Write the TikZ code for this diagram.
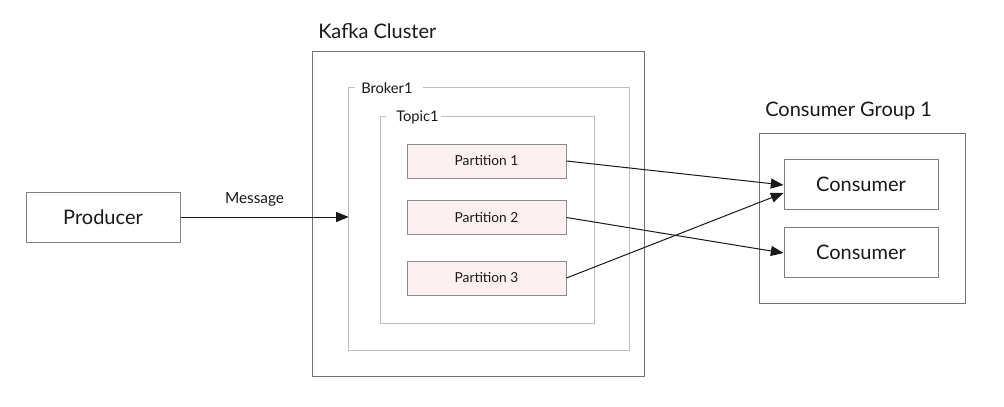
\documentclass[tikz,border=0pt]{standalone}
\usepackage{fontspec}
\setmainfont{Lato}
\usetikzlibrary{arrows.meta,calc}
\definecolor{pfill}{HTML}{FDF0F0}
\definecolor{boxline}{HTML}{808080}
\definecolor{lightline}{HTML}{BDBDBD}
\tikzset{
  every node/.style={text=black!90},
  plain/.style={draw=boxline, line width=0.75pt, rectangle, inner sep=0pt},
  pbox/.style={plain, draw=black!45, fill=pfill, minimum width={159*0.75pt}, minimum height={34*0.75pt}, font=\fontsize{10.3}{12}\selectfont},
  cbox/.style={plain, minimum width={154*0.75pt}, minimum height={50*0.75pt}, font=\fontsize{15}{18}\selectfont},
  frame/.style={draw=lightline, line width=1pt},
  lbl/.style={anchor=west, inner sep=0pt, font=\fontsize{11}{13}\selectfont},
  title/.style={anchor=west, inner sep=0pt, font=\fontsize{15}{18}\selectfont},
  arr/.style={-{Triangle[length=9.5pt,width=7.5pt]}, line width=0.75pt, black!90},
}
\begin{document}
\begin{tikzpicture}[x=0.75pt,y=-0.75pt]
\path[use as bounding box, fill=white] (0,0) rectangle (1004,407);
% Kafka cluster
\node[plain, draw=black!55, minimum width={332*0.75pt}, minimum height={325*0.75pt}] (kafka) at (478,213.5) {};
\node[title] (kafkalbl) at (318,31) {Kafka Cluster};
% Broker
\node[minimum width={280*0.75pt}, minimum height={262*0.75pt}, inner sep=0pt] (broker) at (489,219) {};
\draw[frame] ($(broker.north west)+(6,0)$) -- (broker.north west) -- (broker.south west) -- (broker.south east) -- (broker.north east) -- ($(broker.north west)+(74,0)$);
\node[lbl] (brokerlbl) at (361,88) {Broker1};
% Topic
\node[minimum width={213*0.75pt}, minimum height={206*0.75pt}, inner sep=0pt] (topic) at (487.5,220) {};
\draw[frame] ($(topic.north west)+(5,0)$) -- (topic.north west) -- (topic.south west) -- (topic.south east) -- (topic.north east) -- ($(topic.north west)+(60,0)$);
\node[lbl] (topiclbl) at (396,117) {Topic1};
% Partitions
\node[pbox] (p1) at (486.5,161) {Partition 1};
\node[pbox] (p2) at (486.5,217.5) {Partition 2};
\node[pbox] (p3) at (486.5,278) {Partition 3};
% Producer
\node[cbox] (prod) at (103,217) {Producer};
% Consumer group
\node[plain, draw=black!55, minimum width={206*0.75pt}, minimum height={170*0.75pt}] (cg) at (862,218) {};
\node[title] (cglbl) at (765,111) {Consumer Group 1};
\node[cbox] (c1) at (861,184) {Consumer};
\node[cbox] (c2) at (861,252) {Consumer};
% Arrows
\draw[arr] (prod.east) -- (prod.east -| broker.west) node[pos=0.44, above=7.5pt, inner sep=0pt, font=\fontsize{11.5}{13}\selectfont] (msg) {Message};
\draw[arr] (p1.east) -- ($(c1.west)+(0,1)$);
\draw[arr] (p2.east) -- ($(c2.west)+(0,1)$);
\draw[arr] (p3.east) -- ($(c1.west)+(0,9)$);
\end{tikzpicture}
\end{document}
